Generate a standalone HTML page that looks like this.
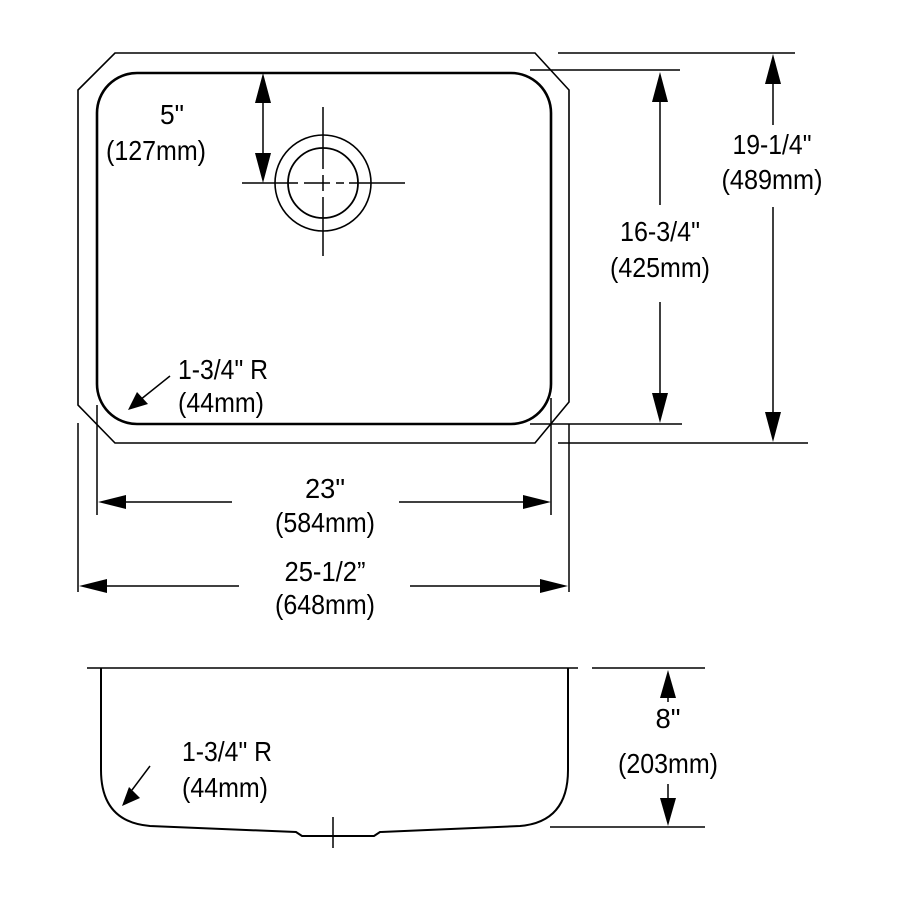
<!DOCTYPE html>
<html><head><meta charset="utf-8"><style>html,body{margin:0;padding:0;background:#fff}svg{display:block}</style></head>
<body>
<svg width="900" height="900" viewBox="0 0 900 900" xmlns="http://www.w3.org/2000/svg">
<g fill="none" stroke="#000" stroke-width="2">
<polygon points="115,53 535,53 569,90 569,402 535,443 115,443 78,405 78,90" stroke-width="1.6"/>
<rect x="97" y="73" width="454" height="351" rx="40" ry="40" stroke-width="2.6"/>
<circle cx="323" cy="183" r="48" stroke-width="1.6"/>
<circle cx="323" cy="183" r="35" stroke-width="1.8"/>
<line x1="323" y1="107" x2="323" y2="169" stroke-width="1.5"/>
<line x1="323" y1="175" x2="323" y2="191" stroke-width="1.5"/>
<line x1="323" y1="197" x2="323" y2="256" stroke-width="1.5"/>
<line x1="242" y1="183" x2="298" y2="183" stroke-width="1.5"/>
<line x1="304" y1="183" x2="316" y2="183" stroke-width="1.5"/>
<line x1="316" y1="183" x2="330" y2="183" stroke-width="1.5"/>
<line x1="336" y1="183" x2="344" y2="183" stroke-width="1.5"/>
<line x1="349" y1="183" x2="405" y2="183" stroke-width="1.5"/>
<line x1="263" y1="80" x2="263" y2="178" stroke-width="1.5"/>
<line x1="170" y1="376" x2="140" y2="400" stroke-width="1.5"/>
<line x1="530" y1="70" x2="680" y2="70" stroke-width="1.5"/>
<line x1="530" y1="424" x2="682" y2="424" stroke-width="1.5"/>
<line x1="558" y1="53" x2="795" y2="53" stroke-width="1.5"/>
<line x1="558" y1="443" x2="808" y2="443" stroke-width="1.5"/>
<line x1="660" y1="90" x2="660" y2="205" stroke-width="1.5"/>
<line x1="660" y1="302" x2="660" y2="400" stroke-width="1.5"/>
<line x1="773" y1="70" x2="773" y2="125" stroke-width="1.5"/>
<line x1="773" y1="207" x2="773" y2="420" stroke-width="1.5"/>
<line x1="97" y1="405" x2="97" y2="515" stroke-width="1.5"/>
<line x1="551" y1="398" x2="551" y2="515" stroke-width="1.5"/>
<line x1="78" y1="423" x2="78" y2="592" stroke-width="1.5"/>
<line x1="569" y1="424" x2="569" y2="592" stroke-width="1.5"/>
<line x1="110" y1="502" x2="232" y2="502" stroke-width="1.5"/>
<line x1="399" y1="502" x2="540" y2="502" stroke-width="1.5"/>
<line x1="90" y1="586" x2="239" y2="586" stroke-width="1.5"/>
<line x1="410" y1="586" x2="556" y2="586" stroke-width="1.5"/>
<line x1="87" y1="668" x2="578" y2="668" stroke-width="1.5"/>
<path d="M101,668 L101,770 Q101,822 150,826 L296,832 L302,836 L374,836 L380,832 L520,826 Q568,822 568,770 L568,668" stroke-width="2"/>
<line x1="333" y1="817" x2="333" y2="848" stroke-width="1.5"/>
<line x1="592" y1="668" x2="705" y2="668" stroke-width="1.5"/>
<line x1="550" y1="827" x2="705" y2="827" stroke-width="1.5"/>
<line x1="668" y1="690" x2="668" y2="702" stroke-width="1.5"/>
<line x1="668" y1="784" x2="668" y2="800" stroke-width="1.5"/>
<line x1="150" y1="766" x2="132" y2="790" stroke-width="1.5"/>
</g>
<g fill="#000" stroke="none">
<polygon points="263,73 255,103 271,103"/>
<polygon points="263,183 255,153 271,153"/>
<polygon points="128,410 137,392 148,404"/>
<polygon points="660,72 652,102 668,102"/>
<polygon points="660,423 652,393 668,393"/>
<polygon points="773,54 765,84 781,84"/>
<polygon points="773,442 765,412 781,412"/>
<polygon points="98,502 126,495 126,509"/>
<polygon points="551,502 523,495 523,509"/>
<polygon points="79,586 107,579 107,593"/>
<polygon points="568,586 540,579 540,593"/>
<polygon points="668,670 660,698 676,698"/>
<polygon points="668,826 660,798 676,798"/>
<polygon points="122,806 129,787 140,798"/>
</g>
<g font-family="Liberation Sans, Arial, sans-serif" font-size="28" fill="#000" text-anchor="middle">
<text x="172" y="124" textLength="24" lengthAdjust="spacingAndGlyphs">5"</text>
<text x="156" y="160" textLength="100" lengthAdjust="spacingAndGlyphs">(127mm)</text>
<text x="223" y="379" textLength="90" lengthAdjust="spacingAndGlyphs">1-3/4" R</text>
<text x="221" y="412" textLength="86" lengthAdjust="spacingAndGlyphs">(44mm)</text>
<text x="660" y="241" textLength="80" lengthAdjust="spacingAndGlyphs">16-3/4"</text>
<text x="660" y="277" textLength="100" lengthAdjust="spacingAndGlyphs">(425mm)</text>
<text x="772" y="154" textLength="79" lengthAdjust="spacingAndGlyphs">19-1/4"</text>
<text x="772" y="189" textLength="101" lengthAdjust="spacingAndGlyphs">(489mm)</text>
<text x="325" y="498" textLength="40" lengthAdjust="spacingAndGlyphs">23"</text>
<text x="325" y="532" textLength="100" lengthAdjust="spacingAndGlyphs">(584mm)</text>
<text x="325" y="581" textLength="81" lengthAdjust="spacingAndGlyphs">25-1/2”</text>
<text x="325" y="614" textLength="100" lengthAdjust="spacingAndGlyphs">(648mm)</text>
<text x="668" y="728" textLength="25" lengthAdjust="spacingAndGlyphs">8"</text>
<text x="668" y="773" textLength="100" lengthAdjust="spacingAndGlyphs">(203mm)</text>
<text x="227" y="761" textLength="90" lengthAdjust="spacingAndGlyphs">1-3/4" R</text>
<text x="225" y="797" textLength="86" lengthAdjust="spacingAndGlyphs">(44mm)</text>
</g>
</svg>
</body></html>
